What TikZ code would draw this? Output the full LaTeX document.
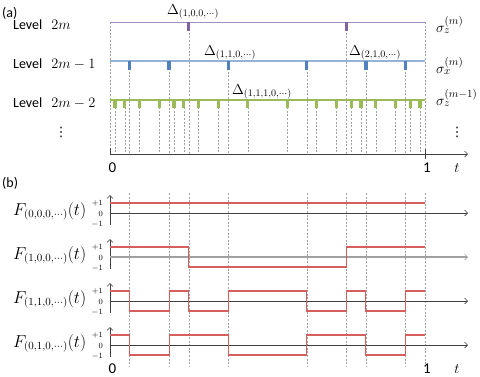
\documentclass[tikz,border=0pt]{standalone}
\usepackage{fontspec}
\setmainfont{Carlito}
\newfontfamily\dejavu{DejaVu Sans}
\usetikzlibrary{arrows.meta}
\definecolor{cpurple}{HTML}{8064A2}
\definecolor{cpurplel}{HTML}{A08CC0}
\definecolor{cblue}{HTML}{4F81BD}
\definecolor{cbluel}{HTML}{95B3D7}
\definecolor{cgreen}{HTML}{9BBB59}
\definecolor{cred}{HTML}{D45F5C}
\definecolor{cdash}{HTML}{A0A0A0}
\definecolor{caxis}{HTML}{404040}
\newcommand{\tx}[1]{110+315*#1}
\newcommand{\lvl}[1]{Level\hspace{9pt}{\fontsize{15}{17}\selectfont$#1$}}
\begin{document}
\begin{tikzpicture}[x=1pt,y=-1pt,
  dashln/.style={cdash,dashed,dash pattern=on 2pt off 1.6pt,line width=0.5pt},
  axisln/.style={caxis,line width=0.6pt},
  arrowln/.style={caxis,line width=0.6pt,-{Straight Barb[length=3pt,width=6pt,line width=0.6pt]}},
  wave/.style={cred,line width=1.1pt},
  lbl/.style={font=\fontsize{14}{16}\selectfont,inner sep=0pt},
  mlbl/.style={font=\fontsize{15}{17}\selectfont,inner sep=0pt},
  dots/.style={font=\fontsize{13}{14}\selectfont\dejavu,inner sep=0pt},
  dlbl/.style={font=\fontsize{14}{16}\selectfont,inner sep=0pt,anchor=base west},
  flbl/.style={font=\fontsize{16}{18}\selectfont,inner sep=0pt,anchor=base west},
  tiny/.style={font=\fontsize{8}{9}\selectfont\rmfamily,inner sep=0pt,anchor=east},
  num/.style={font=\fontsize{15}{17}\selectfont\rmfamily,inner sep=0pt,anchor=base}]
\useasboundingbox (0,0) rectangle (480,376);

% ---------- (a) ----------
\node[lbl,anchor=base west] (la) at (2,17) {(a)};
% dashed verticals
\foreach \t in {0,0.25,0.75,1} \draw[dashln] ({\tx{\t}},22) -- ({\tx{\t}},154);
\foreach \t in {0.0625,0.1875,0.375,0.625,0.8125,0.9375} \draw[dashln] ({\tx{\t}},61) -- ({\tx{\t}},154);
\foreach \t in {0.015625,0.046875,0.09375,0.15625,0.203125,0.234375,0.28125,0.34375,0.4375,0.5625,0.65625,0.71875,0.765625,0.796875,0.84375,0.90625,0.953125,0.984375}
  \draw[dashln] ({\tx{\t}},100) -- ({\tx{\t}},154);
% level lines
\draw[cpurplel,line width=1pt] (110,22) -- (425,22);
\draw[cbluel,line width=1.2pt] (110,61) -- (425,61);
\draw[cgreen,line width=2pt] (110,100) -- (425,100);
% markers
\foreach \t in {0.25,0.75} \fill[cpurple] ({\tx{\t}-1.6},22) rectangle ++(3.2,9);
\foreach \t in {0.0625,0.1875,0.375,0.625,0.8125,0.9375} \fill[cblue] ({\tx{\t}-1.6},61) rectangle ++(3.2,8.5);
\foreach \t in {0.015625,0.046875,0.09375,0.15625,0.203125,0.234375,0.28125,0.34375,0.4375,0.5625,0.65625,0.71875,0.765625,0.796875,0.84375,0.90625,0.953125,0.984375}
  \fill[cgreen] ({\tx{\t}-1.6},100) rectangle ++(3.2,8);
% level labels
\node[lbl,anchor=base west] (l1) at (13,29) {\lvl{2m}};
\node[lbl,anchor=base west] (l2) at (13,68) {\lvl{2m-1}};
\node[lbl,anchor=base west] (l3) at (13,107) {\lvl{2m-2}};
\node[dots] (l4) at (61,132) {⋮};
% right labels
\node[mlbl,anchor=base west] (r1) at (436,32) {$\sigma_z^{(m)}$};
\node[mlbl,anchor=base west] (r2) at (436,73) {$\sigma_x^{(m)}$};
\node[mlbl,anchor=base west] (r3) at (436,105) {$\sigma_z^{(m-1)}$};
\node[dots] (r4) at (457,132) {⋮};
% deltas
\node[dlbl] (d1) at (167,14) {$\Delta_{(1,0,0,\cdots)}$};
\node[dlbl] (d2) at (204,55) {$\Delta_{(1,1,0,\cdots)}$};
\node[dlbl] (d3) at (349,55) {$\Delta_{(2,1,0,\cdots)}$};
\node[dlbl] (d4) at (232,94) {$\Delta_{(1,1,1,0,\cdots)}$};
% axis
\draw[arrowln] (110,154) -- (468,154);
\draw[axisln] (110,148) -- (110,155);
\draw[axisln] (425,149) -- (425,159);
\node[num] (a0) at (112.5,172) {0};
\node[num] (a1) at (427,172) {1};
\node[num] (at) at (457,172) {$t$};

% ---------- (b) ----------
\node[lbl,anchor=base west] (lb) at (2,187) {(b)};
\foreach \t in {0.0625,0.1875,0.25,0.375,0.625,0.75,0.8125,0.9375,1} \draw[dashln] ({\tx{\t}},193) -- ({\tx{\t}},367);
% axes
\foreach \a/\nm in {213/1,257/2,301/3,345/4} {
  \draw[arrowln] (110,\a+12) -- (110,\a-18);
  \node[tiny] (p\nm) at (103,\a-10) {$+1$};
  \node[tiny] (z\nm) at (103,\a+1) {$0$};
  \node[tiny] (m\nm) at (103,\a+11) {$-1$};
}
\draw[arrowln] (110,213) -- (468,213);
\draw[arrowln,draw=cdash,line width=1.2pt] (110,257) -- (468,257);
\draw[arrowln] (110,301) -- (468,301);
\draw[arrowln] (110,345) -- (468,345);
% waves
\draw[wave] (110,203) -- (425,203);
\draw[wave] (110,247) -| (188.75,267) -| (346.25,247) -- (425,247);
\draw[wave] (110,291) -| (129.69,311) -| (169.06,291) -| (188.75,311) -| (228.13,291) -| (306.88,311) -| (346.25,291) -| (365.94,311) -| (405.31,291) -- (425,291);
\draw[wave] (110,335) -| (129.69,355) -| (169.06,335) -| (228.13,355) -| (306.88,335) -| (365.94,355) -| (405.31,335) -- (425,335);
% F labels
\node[flbl] (f1) at (13,215) {$F_{(0,0,0,\cdots)}(t)$};
\node[flbl] (f2) at (13,259) {$F_{(1,0,0,\cdots)}(t)$};
\node[flbl] (f3) at (13,303) {$F_{(1,1,0,\cdots)}(t)$};
\node[flbl] (f4) at (13,347) {$F_{(0,1,0,\cdots)}(t)$};
% bottom axis labels
\node[num] (b0) at (112.5,373) {0};
\node[num] (b1) at (427,373) {1};
\node[num] (bt) at (457,373) {$t$};
\end{tikzpicture}
\end{document}
